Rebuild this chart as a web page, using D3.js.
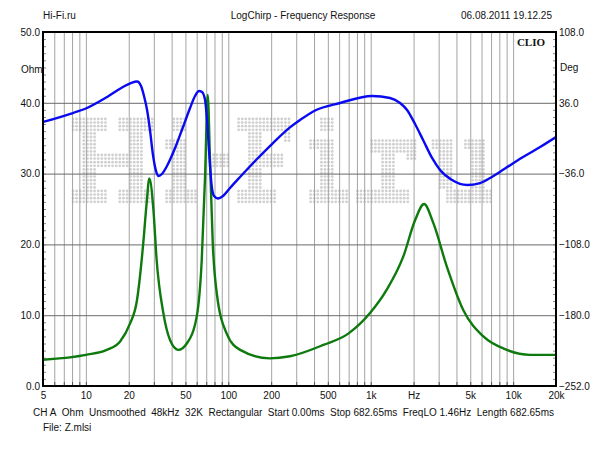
<!DOCTYPE html>
<html>
<head>
<meta charset="utf-8">
<script src="https://cdn.jsdelivr.net/npm/d3@7"></script>
<style>
  html, body { margin: 0; padding: 0; background: #fff; }
  svg { display: block; font-family: "Liberation Sans", Arial, sans-serif; }
</style>
</head>
<body>
<svg id="chart" width="600" height="450"></svg>
<script>
// ---------- data ----------
// Green curve: impedance magnitude (Ohm, left axis)
const greenFreq = [5, 10, 14.0, 17.4, 20.4, 22.8, 25.3, 26.7, 27.9, 29.8, 31.4, 35.0, 39.0, 44.6, 51.1, 60.0, 65.1, 68.7, 71.7, 74.4, 77.8, 83.0, 97.5, 121, 196, 271, 465, 696, 989, 1296, 1695, 2048, 2370, 2754, 3420, 4473, 6180, 9020, 13150, 20000];
const greenOhm  = [3.7, 4.4, 5.1, 6.3, 8.8, 12.0, 20.2, 25.8, 29.3, 24.9, 17.8, 10.3, 6.5, 5.1, 6.0, 9.8, 17.8, 29.6, 41.1, 31.9, 20.2, 13.1, 7.4, 5.1, 3.9, 4.2, 5.8, 7.4, 10.3, 13.6, 18.3, 23.4, 25.7, 23.0, 16.9, 10.7, 7.0, 5.1, 4.4, 4.4];

// Blue curve: impedance phase (Deg, right axis)
const blueFreq = [5, 8.1, 10, 14.1, 18.2, 20.7, 22.9, 24.4, 25.6, 26.9, 28.2, 29.6, 31.1, 32.4, 34.2, 37.1, 42.3, 48.1, 53.9, 58.4, 62.3, 65.4, 68.7, 70.9, 73.2, 76.3, 79.4, 84.7, 91.8, 102.8, 120.9, 156.6, 206, 271, 319, 407, 609, 1022, 1367, 1607, 1800, 2048, 2332, 2696, 3068, 3725, 4748, 5860, 6886, 8776, 11744, 15467, 20000];
const blueDeg  = [16.5, 25.6, 30.2, 41.9, 52.1, 56.1, 57.7, 53.1, 42.9, 28.7, 8.3, -17.1, -33.4, -38.4, -36.4, -28.3, -10.0, 11.4, 30.7, 42.9, 48.0, 47.0, 38.8, 18.5, -12.0, -47.6, -58.8, -61.3, -58.8, -50.6, -39.5, -22.2, -4.9, 11.0, 18.5, 28.2, 35.8, 42.9, 40.9, 35.8, 28.7, 14.4, -1.8, -20.1, -32.3, -42.5, -47.6, -45.6, -40.5, -30.8, -19.1, -9.0, 1.2];

// axis ticks
const xLabelTicks = [5, 10, 20, 50, 100, 200, 500, 1000, 2000, 5000, 10000, 20000];
const xLabelText  = ["5", "10", "20", "50", "100", "200", "500", "1k", "Hz", "5k", "10k", "20k"];
const ohmTicks = [0, 10, 20, 30, 40, 50];
const degTicks = [108, 36, -36, -108, -180, -252];

const headerLeft = "Hi-Fi.ru";
const headerTitle = "LogChirp - Frequency Response";
const headerDate = "06.08.2011 19.12.25";
const infoItems = ["CH A", "Ohm", "Unsmoothed", "48kHz", "32K", "Rectangular",
  "Start 0.00ms", "Stop 682.65ms", "FreqLO 1.46Hz", "Length 682.65ms"];
const fileLabel = "File: Z.mlsi";

// ---------- layout ----------
const L = 43, R = 556, T = 32, B = 386;
const FONT = "Liberation Sans, Arial, sans-serif";
const fontSize = 10;
const svg = d3.select("#chart");

const x = d3.scaleLog().domain([5, 20000]).range([L, R]);
const yL = d3.scaleLinear().domain([0, 50]).range([B, T]);
const yR = d3.scaleLinear().domain([-252, 108]).range([B, T]);

// grid frequencies (1..9 per decade)
const gridFreq = [];
[1, 10, 100, 1000, 10000].forEach(dec => {
  for (let m = 1; m <= 9; m++) {
    const f = m * dec;
    if (f > 5 && f < 20000) gridFreq.push(f);
  }
});

// ---------- watermark (dot matrix "Hi-Fi.ru") ----------
const wm = svg.append("g").attr("fill", "#d0d0d0");
const wmRects = [
  // H
  [0,0,10,4],[3,4,4,16],[0,20,10,4],[13,0,10,4],[16,4,4,16],[13,20,10,4],[7,10,9,4],
  // i
  [28,0,4,4],[26,6,6,3],[28,9,4,11],[26,20,9,4],
  // -
  [38,10,6,4],
  // F
  [46,0,15,4],[59,4,2,3],[49,4,4,16],[53,10,6,4],[46,20,11,4],
  // i
  [69,0,4,4],[66,6,7,3],[69,9,4,11],[66,20,11,4],
  // .
  [79,20,4,4],
  // r
  [83,6,7,4],[86,10,4,10],[90,6,6,4],[93,10,3,2],[83,20,11,4],
  // u
  [100,6,6,3],[102,9,4,11],[109,6,6,3],[111,9,4,15],[104,20,7,4],[115,20,2,4]
];
const s = 3.6, ox = 73, oy = 119;
wmRects.forEach(([c, r, w, h]) => {
  for (let i = 0; i < w; i++) for (let j = 0; j < h; j++) {
    wm.append("circle").attr("cx", ox + (c + i) * s).attr("cy", oy + (r + j) * s).attr("r", 1.4);
  }
});

// ---------- grids ----------
svg.append("g")
  .attr("transform", `translate(0,${B})`)
  .call(d3.axisBottom(x).tickValues(gridFreq).tickSize(-(B - T)).tickFormat(""))
  .call(g => g.select(".domain").remove())
  .call(g => g.selectAll("line").attr("stroke", "#a4a4a4").attr("stroke-width", 1));

svg.append("g")
  .attr("transform", `translate(${L},0)`)
  .call(d3.axisLeft(yL).tickValues([10, 20, 30, 40]).tickSize(-(R - L)).tickFormat(""))
  .call(g => g.select(".domain").remove())
  .call(g => g.selectAll("line").attr("stroke", "#6a6a6a").attr("stroke-width", 1));

// minor ticks
svg.append("g")
  .attr("transform", `translate(${L},0)`)
  .call(d3.axisLeft(yL).tickValues(d3.range(1, 50)).tickSize(-3).tickFormat(""))
  .call(g => g.select(".domain").remove())
  .call(g => g.selectAll("line").attr("stroke", "#888"));
svg.append("g")
  .attr("transform", `translate(${R},0)`)
  .call(d3.axisRight(yL).tickValues(d3.range(1, 50)).tickSize(-3).tickFormat(""))
  .call(g => g.select(".domain").remove())
  .call(g => g.selectAll("line").attr("stroke", "#888"));
svg.append("g")
  .attr("transform", `translate(0,${B})`)
  .call(d3.axisBottom(x).tickValues(gridFreq).tickSize(-4).tickFormat(""))
  .call(g => g.select(".domain").remove())
  .call(g => g.selectAll("line").attr("stroke", "#555"));

// ---------- curves ----------
svg.append("clipPath").attr("id", "clip")
  .append("rect").attr("x", L).attr("y", T).attr("width", R - L).attr("height", B - T);

const greenData = greenFreq.map((f, i) => [f, greenOhm[i]]);
const blueData = blueFreq.map((f, i) => [f, blueDeg[i]]);

const plot = svg.append("g").attr("clip-path", "url(#clip)");
plot.append("path")
  .datum(greenData)
  .attr("fill", "none").attr("stroke", "#0e7a0e").attr("stroke-width", 2.4)
  .attr("stroke-linejoin", "round")
  .attr("d", d3.line().x(d => x(d[0])).y(d => yL(d[1])).curve(d3.curveMonotoneX));
plot.append("path")
  .datum(blueData)
  .attr("fill", "none").attr("stroke", "#0a0af0").attr("stroke-width", 2.4)
  .attr("stroke-linejoin", "round")
  .attr("d", d3.line().x(d => x(d[0])).y(d => yR(d[1])).curve(d3.curveMonotoneX));

// ---------- frame ----------
svg.append("rect")
  .attr("x", L).attr("y", T).attr("width", R - L).attr("height", B - T)
  .attr("fill", "none").attr("stroke", "#000").attr("stroke-width", 2);

// ---------- axis labels ----------
const styleText = g => g.selectAll("text").attr("font-size", fontSize).attr("fill", "#111")
  .attr("font-family", FONT);

svg.append("g")
  .attr("transform", `translate(0,${B})`)
  .call(d3.axisBottom(x).tickValues(xLabelTicks).tickSize(0).tickPadding(6)
    .tickFormat((d, i) => xLabelText[i]))
  .call(g => g.select(".domain").remove())
  .call(styleText);

svg.append("g")
  .attr("transform", `translate(${L},0)`)
  .call(d3.axisLeft(yL).tickValues(ohmTicks).tickSize(0).tickPadding(3).tickFormat(d3.format(".1f")))
  .call(g => g.select(".domain").remove())
  .call(styleText);

svg.append("g")
  .attr("transform", `translate(${R},0)`)
  .call(d3.axisRight(yR).tickValues(degTicks).tickSize(0).tickPadding(3).tickFormat(d3.format(".1f")))
  .call(g => g.select(".domain").remove())
  .call(styleText);

const txt = (t, xx, yy, anchor = "start", extra = {}) => {
  const e = svg.append("text").attr("x", xx).attr("y", yy).attr("text-anchor", anchor)
    .attr("font-size", fontSize).attr("font-family", FONT).attr("fill", "#111").text(t);
  Object.entries(extra).forEach(([k, v]) => e.attr(k, v));
  return e;
};

txt("Ohm", 21, 73);
txt("Deg", 560, 71);
txt(headerLeft, 43, 19);
txt(headerTitle, 303, 19, "middle");
txt(headerDate, 552, 19, "end");
txt("CLIO", 545, 46, "end", {"font-family": "Liberation Serif, Times New Roman, serif", "font-weight": "bold", "font-size": 11});

// info row: distribute items evenly between x=33 and x=554
const infoNodes = infoItems.map(t => txt(t, 0, 416));
const widths = infoNodes.map(n => n.node().getComputedTextLength());
const gap = (554 - 33 - d3.sum(widths)) / (infoItems.length - 1);
let cx = 33;
infoNodes.forEach((n, i) => { n.attr("x", cx); cx += widths[i] + gap; });

txt(fileLabel, 43, 431);
</script>
</body>
</html>
